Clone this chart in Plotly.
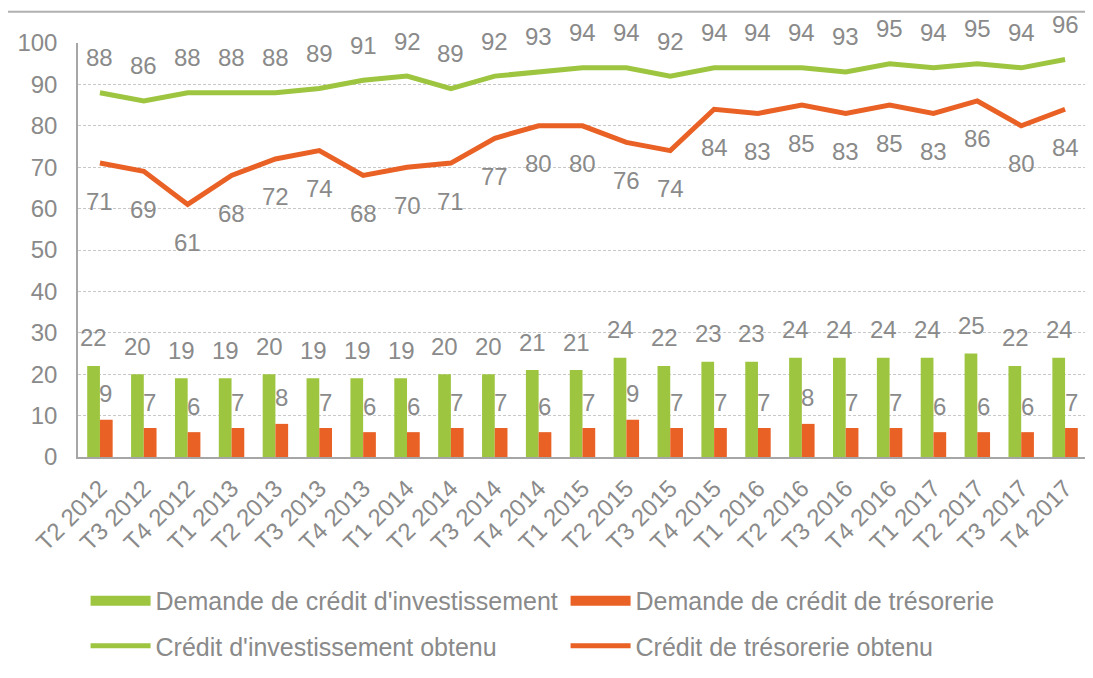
import plotly.graph_objects as go

categories = ["T2 2012", "T3 2012", "T4 2012", "T1 2013", "T2 2013", "T3 2013", "T4 2013",
              "T1 2014", "T2 2014", "T3 2014", "T4 2014", "T1 2015", "T2 2015", "T3 2015",
              "T4 2015", "T1 2016", "T2 2016", "T3 2016", "T4 2016", "T1 2017", "T2 2017",
              "T3 2017", "T4 2017"]
demande_invest = [22, 20, 19, 19, 20, 19, 19, 19, 20, 20, 21, 21, 24, 22, 23, 23, 24, 24, 24, 24, 25, 22, 24]
demande_treso = [9, 7, 6, 7, 8, 7, 6, 6, 7, 7, 6, 7, 9, 7, 7, 7, 8, 7, 7, 6, 6, 6, 7]
obtenu_invest = [88, 86, 88, 88, 88, 89, 91, 92, 89, 92, 93, 94, 94, 92, 94, 94, 94, 93, 95, 94, 95, 94, 96]
obtenu_treso = [71, 69, 61, 68, 72, 74, 68, 70, 71, 77, 80, 80, 76, 74, 84, 83, 85, 83, 85, 83, 86, 80, 84]

GREEN = "#9DC540"
ORANGE = "#E96125"
TXT = "#8a8a8a"
FONT = "Liberation Sans, Arial, sans-serif"
FS = 24

fig = go.Figure()
fig.add_trace(go.Bar(x=categories, y=demande_invest, name="Demande de crédit d'investissement",
                     marker=dict(color=GREEN, line=dict(width=0)), showlegend=False))
fig.add_trace(go.Bar(x=categories, y=demande_treso, name="Demande de crédit de trésorerie",
                     marker=dict(color=ORANGE, line=dict(width=0)), showlegend=False))
# legend entries for the bar series (wide rectangle keys, as in the original)
fig.add_trace(go.Scatter(x=[None], y=[None], mode="lines", name="Demande de crédit d'investissement",
                         line=dict(color=GREEN, width=10), legend="legend", hoverinfo="skip"))
fig.add_trace(go.Scatter(x=[None], y=[None], mode="lines", name="Demande de crédit de trésorerie",
                         line=dict(color=ORANGE, width=10), legend="legend", hoverinfo="skip"))
fig.add_trace(go.Scatter(x=categories, y=obtenu_invest, name="Crédit d'investissement obtenu",
                         mode="lines", line=dict(color=GREEN, width=5), legend="legend2"))
fig.add_trace(go.Scatter(x=categories, y=obtenu_treso, name="Crédit de trésorerie obtenu",
                         mode="lines", line=dict(color=ORANGE, width=5), legend="legend2"))

ann = []
lab_font = dict(family=FONT, size=FS, color=TXT)
for c, v in zip(categories, obtenu_invest):
    ann.append(dict(x=c, y=v, text=str(v), showarrow=False, yshift=35, font=lab_font))
for c, v in zip(categories, obtenu_treso):
    ann.append(dict(x=c, y=v, text=str(v), showarrow=False, yshift=-38, font=lab_font))
for c, v in zip(categories, demande_invest):
    ann.append(dict(x=c, y=v, text=str(v), showarrow=False, yshift=28, xshift=-6, font=lab_font))
for c, v in zip(categories, demande_treso):
    ann.append(dict(x=c, y=v, text=str(v), showarrow=False, yshift=26, xshift=6, font=lab_font))

leg_common = dict(orientation="h", x=0.0075, xanchor="left", yanchor="top",
                  font=dict(family=FONT, size=25, color=TXT),
                  entrywidth=405, itemwidth=60, bgcolor="rgba(0,0,0,0)")

fig.update_layout(
    width=1085, height=670,
    margin=dict(l=70, r=6, t=35, b=221),
    paper_bgcolor="white", plot_bgcolor="white",
    barmode="group", bargap=0.42, bargroupgap=0,
    font=dict(family=FONT, size=FS, color=TXT),
    annotations=ann,
    showlegend=True,
    legend=dict(y=-0.292, **leg_common),
    legend2=dict(y=-0.401, **leg_common),
)
# thin grey rule across the top of the image
fig.add_shape(type="rect", xref="paper", yref="paper", x0=-0.07, x1=1.006,
              y0=1.073, y1=1.078, layer="above", fillcolor="#b0b0b0",
              line=dict(width=0))
fig.update_xaxes(type="category", tickangle=-45, showline=True, linecolor="#a6a6a6", linewidth=1.5,
                 showgrid=False, ticks="", tickfont=dict(family=FONT, size=FS, color=TXT),
                 ticklabelstandoff=6)
fig.update_yaxes(range=[0, 100], dtick=10, showline=True, linecolor="#a6a6a6", linewidth=1.5,
                 showgrid=True, gridcolor="#c8c8c8", griddash="3px,2px", gridwidth=1,
                 zeroline=False, ticks="", tickfont=dict(family=FONT, size=FS, color=TXT),
                 ticklabelstandoff=14)

fig.write_html("out.html")
